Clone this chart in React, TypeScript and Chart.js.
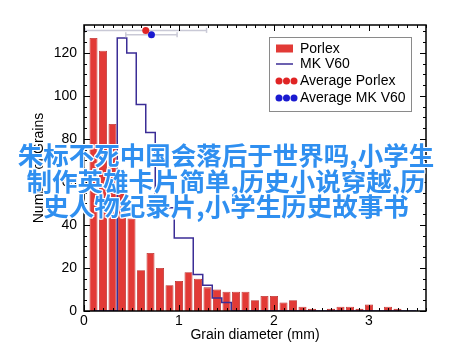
import React, { useEffect, useRef } from 'react';
import { Chart, registerables } from 'chart.js';

Chart.register(...registerables);

// ---- data ----
const grainDiameterBins = [
  0.1, 0.2, 0.3, 0.4, 0.5, 0.6, 0.7, 0.8, 0.9, 1.0,
  1.1, 1.2, 1.3, 1.4, 1.5, 1.6, 1.7, 1.8, 1.9, 2.0,
  2.1, 2.2, 2.3, 2.4, 2.5, 2.6, 2.7, 2.8, 2.9, 3.0,
  3.1, 3.2, 3.3, 3.4, 3.5,
];
const porlexCounts = [
  127, 121, 87, 56, 43, 19, 27, 20, 12, 14,
  18, 15, 11, 10, 9, 9, 9, 5, 7, 7,
  4, 5, 2, 1, 0, 1, 2, 2, 1, 3,
  0, 2, 1, 0, 0,
];
const mkV60Counts = [
  0, 0, 0, 127, 120, 96, 83, 48, 48, 34,
  34, 17, 12, 6, 4, 0, 0, 0, 0, 0,
  0, 0, 0, 0, 0, 0, 0, 0, 0, 0,
  0, 0, 0, 0, 0,
];
const seriesNames = ['Porlex', 'MK V60'];
const averageNames = ['Average Porlex', 'Average MK V60'];
const averageDiameters = [0.65, 0.71];
const averageSpreads = [0.64, 0.27];
const averageMarkerHeights = [130.5, 128.5];
const xTickValues = [0, 1, 2, 3];
const yTickValues = [0, 20, 40, 60, 80, 100, 120];
const xAxisTitle = 'Grain diameter (mm)';
const yAxisTitle = 'Number of Grains';
const overlayLines = [
  '朱标不死中国会落后于世界吗,小学生',
  '制作英雄卡片简单,历史小说穿越,历',
  '史人物纪录片,小学生历史故事书',
];

// ---- styles ----
const RED = '#e23a36';
const RED_EDGE = '#b82a28';
const NAVY = '#3b2d96';
const AVG_RED = '#e02424';
const AVG_BLUE = '#1a1ad0';
const ERR_GREY = '#c9c9d6';
const FONT = '"Liberation Sans", Arial, Helvetica, sans-serif';

const framePlugin = {
  id: 'frameAndLegend',
  afterDatasetsDraw(chart: any) {
    const { ctx, chartArea: a, scales } = chart;
    const x = scales.x;
    const y = scales.y;
    ctx.save();
    ctx.strokeStyle = '#000';
    ctx.lineWidth = 1;
    ctx.beginPath();
    for (let v = 0; v <= y.max + 0.001; v += 5) {
      const py = Math.round(y.getPixelForValue(v)) + 0.5;
      const len = v % 20 === 0 ? 6 : 3;
      ctx.moveTo(a.left, py);
      ctx.lineTo(a.left + len, py);
      ctx.moveTo(a.right, py);
      ctx.lineTo(a.right - len, py);
    }
    for (let i = 0; i <= Math.round(x.max * 10); i++) {
      const px = Math.round(x.getPixelForValue(i / 10)) + 0.5;
      const len = i % 10 === 0 ? 6 : 3;
      ctx.moveTo(px, a.bottom);
      ctx.lineTo(px, a.bottom - len);
      ctx.moveTo(px, a.top);
      ctx.lineTo(px, a.top + len);
    }
    ctx.stroke();
    ctx.lineWidth = 1.5;
    ctx.strokeRect(a.left, a.top, a.right - a.left, a.bottom - a.top);

    // legend box
    const lx = a.right - 157;
    const ly = a.top + 12;
    const lw = 142;
    const lh = 74;
    ctx.fillStyle = '#fff';
    ctx.fillRect(lx, ly, lw, lh);
    ctx.strokeStyle = '#8a8a8a';
    ctx.lineWidth = 1;
    ctx.strokeRect(lx + 0.5, ly + 0.5, lw, lh);

    const sx = lx + 7;
    const tx = lx + 31;
    const rows = [ly + 11.5, ly + 27, ly + 44, ly + 61];
    // Porlex swatch
    ctx.fillStyle = RED;
    ctx.fillRect(sx, rows[0] - 4, 17, 8);
    // MK V60 swatch
    ctx.strokeStyle = NAVY;
    ctx.lineWidth = 1.5;
    ctx.beginPath();
    ctx.moveTo(sx, rows[1]);
    ctx.lineTo(sx + 17, rows[1]);
    ctx.stroke();
    // averages: three dots
    [AVG_RED, AVG_BLUE].forEach((c, k) => {
      ctx.fillStyle = c;
      for (let d = 0; d < 3; d++) {
        ctx.beginPath();
        ctx.arc(sx + 3 + d * 7.5, rows[2 + k], 3.5, 0, Math.PI * 2);
        ctx.fill();
      }
    });
    ctx.fillStyle = '#000';
    ctx.font = `14px ${FONT}`;
    ctx.textBaseline = 'middle';
    ctx.textAlign = 'left';
    const labels = [seriesNames[0], seriesNames[1], averageNames[0], averageNames[1]];
    labels.forEach((t, i) => ctx.fillText(t, tx, rows[i] + 0.5));
    ctx.restore();
  },
};

export default function App() {
  const canvasRef = useRef<HTMLCanvasElement | null>(null);

  useEffect(() => {
    if (!canvasRef.current) return;
    const avgColors = [AVG_RED, AVG_BLUE];
    const errorSets = averageDiameters.map((m, i) => ({
      type: 'line',
      label: averageNames[i] + ' range',
      data: [
        { x: m - averageSpreads[i], y: averageMarkerHeights[i] },
        { x: m + averageSpreads[i], y: averageMarkerHeights[i] },
      ],
      borderColor: ERR_GREY,
      borderWidth: 1.5,
      pointStyle: 'line',
      pointRadius: 2.5,
      pointBorderColor: ERR_GREY,
      pointBorderWidth: 1.5,
      rotation: 90,
      fill: false,
      order: 1,
    }));
    const markerSets = averageDiameters.map((m, i) => ({
      type: 'line',
      label: averageNames[i],
      data: [{ x: m, y: averageMarkerHeights[i] }],
      showLine: false,
      pointRadius: 3.5,
      pointBackgroundColor: avgColors[i],
      pointBorderColor: avgColors[i],
      pointBorderWidth: 0,
      order: 0,
    }));

    const chart = new Chart(canvasRef.current, {
      type: 'bar',
      data: {
        datasets: [
          {
            type: 'bar',
            label: seriesNames[0],
            data: grainDiameterBins.map((x, i) => ({ x, y: porlexCounts[i] })),
            backgroundColor: RED,
            borderColor: RED_EDGE,
            borderWidth: 0.8,
            barPercentage: 0.84,
            categoryPercentage: 1,
            order: 3,
          },
          {
            type: 'line',
            label: seriesNames[1],
            data: grainDiameterBins.map((x, i) => ({ x, y: mkV60Counts[i] })),
            stepped: 'middle',
            borderColor: NAVY,
            borderWidth: 1.5,
            pointRadius: 0,
            fill: false,
            order: 2,
          },
          ...errorSets,
          ...markerSets,
        ] as any,
      },
      options: {
        responsive: false,
        animation: false,
        devicePixelRatio: 1,
        layout: { padding: { left: 0, top: 25, right: 34, bottom: 0 } },
        plugins: { legend: { display: false }, tooltip: { enabled: false } },
        scales: {
          x: {
            type: 'linear',
            min: 0,
            max: 3.6,
            offset: false,
            grid: { display: false, drawTicks: false, offset: false },
            border: { display: false },
            afterBuildTicks: (s: any) => {
              s.ticks = xTickValues.map((v) => ({ value: v }));
            },
            afterFit: (s: any) => {
              s.height = 43;
            },
            ticks: {
              color: '#000',
              padding: 2,
              font: { size: 14, family: FONT },
              callback: (v: any) => String(v),
            },
            title: {
              display: true,
              text: xAxisTitle,
              color: '#000',
              font: { size: 14, family: FONT },
              padding: { top: 0, bottom: 10 },
            },
          },
          y: {
            type: 'linear',
            min: 0,
            max: 133,
            grid: { display: false, drawTicks: false },
            border: { display: false },
            afterBuildTicks: (s: any) => {
              s.ticks = yTickValues.map((v) => ({ value: v }));
            },
            afterFit: (s: any) => {
              s.width = 84;
            },
            ticks: {
              color: '#000',
              padding: 7,
              font: { size: 14, family: FONT },
              callback: (v: any) => String(v),
            },
            title: {
              display: true,
              text: yAxisTitle,
              color: '#000',
              font: { size: 14, family: FONT },
              padding: { top: 31, bottom: 0 },
            },
          },
        },
      } as any,
      plugins: [framePlugin],
    });
    return () => chart.destroy();
  }, []);

  return (
    <div
      style={{
        position: 'fixed',
        left: 0,
        top: 0,
        width: 460,
        height: 354,
        background: '#fff',
        overflow: 'hidden',
      }}
    >
      <canvas ref={canvasRef} width={460} height={354} style={{ display: 'block' }} />
      <div
        style={{
          position: 'absolute',
          left: 0,
          top: 141,
          width: 452,
          textAlign: 'center',
          fontFamily: '"Noto Sans CJK SC", "Noto Sans", sans-serif',
          fontWeight: 700,
          fontSize: '25.5px',
          lineHeight: '25.5px',
          color: '#2f8ff0',
          whiteSpace: 'nowrap',
          pointerEvents: 'none',
          textShadow:
            '1px 0 0 #fff, -1px 0 0 #fff, 0 1px 0 #fff, 0 -1px 0 #fff, 1px 1px 0 #fff, -1px -1px 0 #fff, 1px -1px 0 #fff, -1px 1px 0 #fff',
        }}
      >
        {overlayLines.map((line, i) => (
          <div key={i}>{line}</div>
        ))}
      </div>
    </div>
  );
}
